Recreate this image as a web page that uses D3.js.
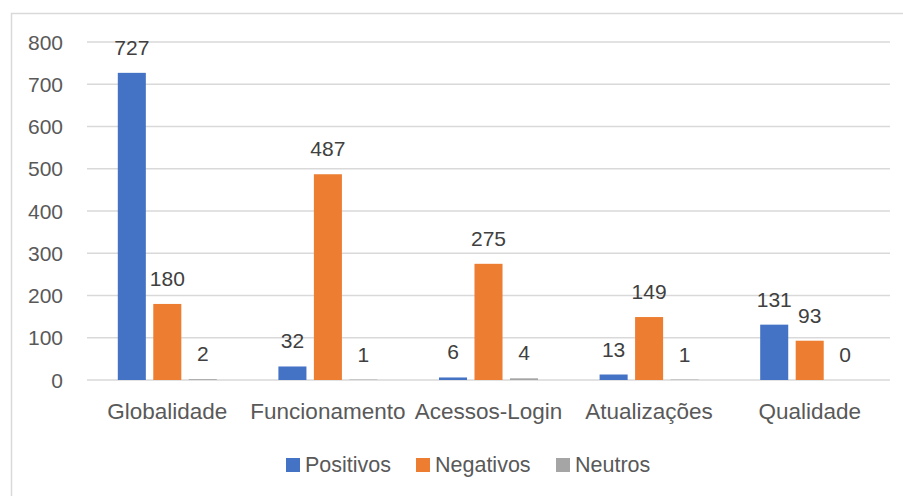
<!DOCTYPE html>
<html>
<head>
<meta charset="utf-8">
<script src="https://cdn.jsdelivr.net/npm/d3@7"></script>
<style>
  body { margin: 0; background: #fff; }
  text { font-family: "Liberation Sans", Arial, sans-serif; }
</style>
</head>
<body>
<script>
var categories = ["Globalidade", "Funcionamento", "Acessos-Login", "Atualizações", "Qualidade"];
var seriesNames = ["Positivos", "Negativos", "Neutros"];
var positivos = [727, 32, 6, 13, 131];
var negativos = [180, 487, 275, 149, 93];
var neutros = [2, 1, 4, 1, 0];
var yTicks = [0, 100, 200, 300, 400, 500, 600, 700, 800];
var colors = ["#4472C4", "#ED7D31", "#A5A5A5"];

var values = [positivos, negativos, neutros];
var W = 903, H = 496;
var plotL = 87, plotR = 890, plotT = 42, plotB = 380;

var svg = d3.select("body").append("svg")
	.attr("width", W)
	.attr("height", H);

// chart border
svg.append("rect")
	.attr("x", 11.5).attr("y", 13.5)
	.attr("width", W).attr("height", H)
	.attr("fill", "none")
	.attr("stroke", "#d9d9d9")
	.attr("stroke-width", 1.5);

var y = d3.scaleLinear().domain([0, 800]).range([plotB, plotT]);
var x0 = d3.scaleBand().domain(categories).range([plotL, plotR]);
var groupW = 99;
var x1 = d3.scaleBand().domain(seriesNames).range([0, groupW]).paddingInner(0.21);

// gridlines
svg.append("g").selectAll("line")
	.data(yTicks)
	.enter().append("line")
	.attr("x1", plotL).attr("x2", plotR)
	.attr("y1", function(d) { return y(d); })
	.attr("y2", function(d) { return y(d); })
	.attr("stroke", "#d9d9d9")
	.attr("stroke-width", 1.5);

// y tick labels
svg.append("g").selectAll("text")
	.data(yTicks)
	.enter().append("text")
	.attr("x", 63)
	.attr("y", function(d) { return y(d); })
	.attr("dy", "0.36em")
	.attr("text-anchor", "end")
	.attr("font-size", 21)
	.attr("fill", "#595959")
	.text(function(d) { return d; });

// bars
var groups = svg.append("g").selectAll("g")
	.data(categories)
	.enter().append("g")
	.attr("transform", function(c) {
		return "translate(" + (x0(c) + (x0.bandwidth() - groupW) / 2) + ",0)";
	});

groups.each(function(c, ci) {
	var g = d3.select(this);
	seriesNames.forEach(function(s, si) {
		var v = values[si][ci];
		g.append("rect")
			.attr("x", x1(s))
			.attr("y", y(v))
			.attr("width", x1.bandwidth())
			.attr("height", y(0) - y(v))
			.attr("fill", colors[si]);
		g.append("text")
			.attr("x", x1(s) + x1.bandwidth() / 2)
			.attr("y", y(v) - 18)
			.attr("text-anchor", "middle")
			.attr("font-size", 21)
			.attr("fill", "#404040")
			.text(v);
	});
});

// category labels
svg.append("g").selectAll("text")
	.data(categories)
	.enter().append("text")
	.attr("x", function(c) { return x0(c) + x0.bandwidth() / 2; })
	.attr("y", 419)
	.attr("text-anchor", "middle")
	.attr("font-size", 22.5)
	.attr("fill", "#595959")
	.text(function(c) { return c; });

// legend
var legendX = [286, 416, 556];
var legend = svg.append("g").selectAll("g")
	.data(seriesNames)
	.enter().append("g")
	.attr("transform", function(d, i) { return "translate(" + legendX[i] + ",458)"; });
legend.append("rect")
	.attr("width", 14).attr("height", 14)
	.attr("fill", function(d, i) { return colors[i]; });
legend.append("text")
	.attr("x", 19).attr("y", 14)
	.attr("font-size", 21.5)
	.attr("fill", "#595959")
	.text(function(d) { return d; });
</script>
</body>
</html>
